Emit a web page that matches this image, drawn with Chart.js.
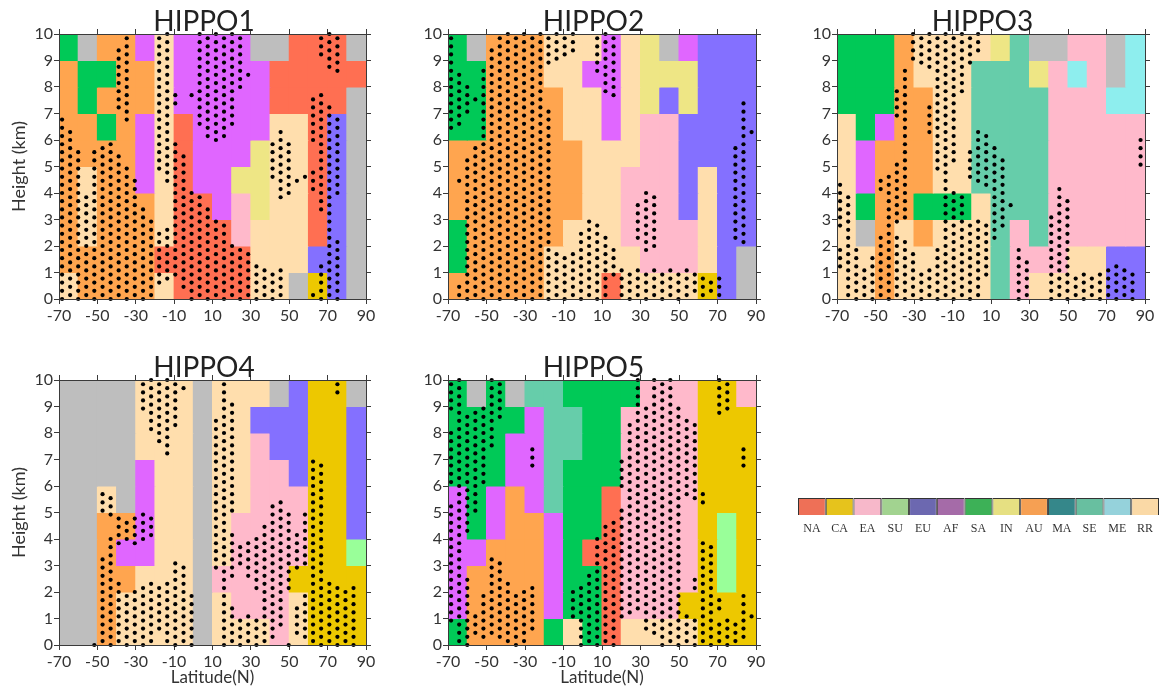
<!DOCTYPE html>
<html>
<head>
<meta charset="utf-8">
<title>HIPPO source regions</title>
<script src="https://cdn.jsdelivr.net/npm/chart.js"></script>
<style>
  html, body { margin: 0; padding: 0; background: #fff; overflow: hidden; }
  #page { position: relative; width: 1163px; height: 692px; overflow: hidden; }
  canvas { position: absolute; }
</style>
</head>
<body>
<div id="page"></div>
<script>
// Latitude bins (left edge, 10 degrees wide) and height bins (bottom edge, 1 km)
const latBins = [-70, -60, -50, -40, -30, -20, -10, 0, 10, 20, 30, 40, 50, 60, 70, 80];
const heightBins = [9, 8, 7, 6, 5, 4, 3, 2, 1, 0];

// Source region codes used in the grids. G is the grey "no region" colour
const legendNames = ['NA', 'CA', 'EA', 'SU', 'EU', 'AF', 'SA', 'IN', 'AU', 'MA', 'SE', 'ME', 'RR'];
const legendColors = ['#EE7057', '#E6C31C', '#F7B8CA', '#A2D390', '#6C68B0', '#A56BA8', '#3DB157', '#E6E082', '#F6A053', '#35878A', '#68BFA0', '#95D2DB', '#FAD9A6'];
const cellColors = {
    N: '#FF6F52', C: '#EDC800', E: '#FFB9CB', U: '#99FF99', B: '#8470FF', F: '#E066FF', S: '#00C957',
    I: '#EEE685', A: '#FFA54F', T: '#66CDAA', H: '#8EEEEE', R: '#FFDEAD', G: '#BEBEBE'
};

// One string per height bin (top row first), one letter per latitude bin
const grid1 = [
    'SGAAFRFFFFGGNNNG',
    'ASSAARFFFFFNNNNN',
    'ASAAARFFFFFNNNNG',
    'AASAFRNFFFFRRNBG',
    'AAAAFRNFFFIRRNBG',
    'ARAAFRNFFIIRRNBG',
    'ARAAARNNFEIRRNBG',
    'ARAAARNNNERRRNBG',
    'AAAAANNNNNRRRBBG',
    'RAAAARNNNNRRGCBG'
];
const grid2 = [
    'SGAAARRRFRIGFBBB',
    'SSAAARRFFRIIIBBB',
    'SSAAAARRFRIBIBBB',
    'SSAAAARRFREEBBBB',
    'AAAAAAARRREEBBBB',
    'AAAAAAARREEEBRBB',
    'AAAAAAARREEEBRBB',
    'SAAAAARRREEEERBB',
    'SAAAARRRRREEERBG',
    'AAAAARRRNRRRRCBG'
];
const grid3 = [
    'SSSARRRRITGGEEGH',
    'SSSARRRTTTIEHEGH',
    'SSSAARRTTTTEEEHH',
    'RSFAARRTTTTEEEEE',
    'RFAAARRTTTTEEEEE',
    'RFAAARRTTTTEEEEE',
    'RSAASSSRTTTEEEEE',
    'RGARARRRTETEEEEE',
    'RRARRRRRTEEERRBB',
    'RRARRRRRTERRRRBB'
];
const grid4 = [
    'GGGGRRRGRRRGBCCG',
    'GGGGRRRGRRBBBCCB',
    'GGGGRRRGRREBBCCB',
    'GGGGFRRGRREEBCCB',
    'GGRGFRRGRREEECCB',
    'GGAAFRRGREEEECCB',
    'GGAFFRRGREEEECCU',
    'GGAARRRGEEEECCCC',
    'GGARRRRGREEERCCC',
    'GGARRRRGRRRERCCC'
];
const grid5 = [
    'SGSGTTSSSSEEECCE',
    'SSSSFTTSSEEEECCC',
    'SSSFFTTSSEEEECCC',
    'SSSFFTSSSEEEECCC',
    'FSFAFTSSNEEEECCC',
    'FSFAAFSSNEEEECUC',
    'FFAAAFSNNEEEECUC',
    'FAAAAFSSNEEEECUC',
    'FAAAAFSSNEEECCCC',
    'SAAAASRSNRRRRCCC'
];

// Stippling sits on a staggered grid: these are its columns and the two sets of row heights
const stippleLats = [-68.4, -64.2, -60, -55.8, -51.6, -47.3, -43.1, -38.9, -34.7, -30.5, -26.2, -22, -17.8, -13.6, -9.4, -5.1, -0.9, 3.3, 7.5, 11.8, 16, 20.2, 24.4, 28.6, 32.9, 37.1, 41.3, 45.5, 49.7, 54, 58.2, 62.4, 66.6, 70.9, 75.1, 79.3, 83.5, 87.7];
const stippleEven = [0, 0.31, 0.62, 0.92, 1.23, 1.54, 1.85, 2.15, 2.46, 2.77, 3.08, 3.38, 3.69, 4, 4.31, 4.61, 4.92, 5.23, 5.54, 5.84, 6.15, 6.46, 6.77, 7.07, 7.38, 7.69, 8, 8.3, 8.61, 8.92, 9.23, 9.53, 9.84];
const stippleOdd = [0.15, 0.46, 0.77, 1.08, 1.38, 1.69, 2, 2.31, 2.61, 2.92, 3.23, 3.54, 3.84, 4.15, 4.46, 4.77, 5.07, 5.38, 5.69, 6, 6.3, 6.61, 6.92, 7.23, 7.53, 7.84, 8.15, 8.46, 8.76, 9.07, 9.38, 9.69, 10];

// Stippled runs: [column index, lowest height, highest height]
const dots1 = [[0,0,6.77],[1,.15,6.3],[2,0,5.54],[3,.15,3.84],[4,0,5.54],[5,.15,5.69],[6,0,5.84],[7,.15,5.38],[7,7.23,9.38],[8,0,4.92],[8,6.77,9.84],[9,.15,4.46],[10,0,3.38],[11,.15,2.92],[12,.62,2.46],[12,4.92,9.84],[13,.77,2.61],[13,4.46,10],[14,.92,5.84],[14,7.38,7.69],[15,.46,5.38],[16,0,4],[16,7.69,7.69],[17,.15,3.84],[17,6.61,10],[18,0,3.38],[18,6.15,9.84],[19,.15,2.92],[19,6,10],[20,0,2.77],[20,6.15,9.84],[21,.15,2],[21,6.61,10],[22,0,1.85],[22,8,9.84],[23,.15,1.69],[23,8.46,8.46],[24,0,1.23],[25,.15,1.08],[26,0,.92],[26,4.61,5.84],[27,.15,1.08],[27,3.84,6.3],[28,4,5.84],[29,4.46,4.46],[30,4.61,4.61],[31,.15,.15],[31,4.15,4.77],[31,6,7.53],[32,0,1.23],[32,3.38,7.69],[32,9.23,9.84],[33,.15,7.23],[33,8.76,10],[34,0,2.15],[34,4,6.77],[34,8.61,9.84]];
const dots2 = [[0,6.46,9.84],[1,.15,.46],[1,4.46,4.46],[1,6.61,8.46],[2,0,5.23],[2,7.07,8],[3,.15,5.69],[3,7.53,7.53],[4,0,8.61],[5,.15,9.38],[6,0,9.84],[7,.15,10],[8,0,9.84],[9,.15,10],[10,0,9.84],[11,.15,10],[12,0,7.07],[12,8.92,9.84],[13,.15,1.69],[13,9.07,10],[14,0,1.54],[14,9.23,9.84],[15,.15,1.69],[15,9.38,10],[16,0,2.46],[17,.15,2.92],[18,0,2.77],[18,8.61,9.84],[19,.15,2.31],[19,7.84,10],[20,.92,1.85],[20,7.69,9.84],[21,.15,1.08],[22,0,.92],[23,.15,1.08],[23,2.31,3.54],[24,0,.92],[24,1.85,4],[25,.15,1.08],[25,2,3.84],[26,0,.92],[27,.15,1.08],[28,0,.92],[29,.15,1.08],[30,.31,.92],[31,.15,.77],[32,.31,.62],[33,.15,.77],[35,2.31,5.69],[36,2.15,7.38],[37,6.3,6.3]];
const dots3 = [[0,1.23,1.85],[0,2.77,4.31],[1,.15,3.84],[2,0,1.85],[3,.15,1.08],[4,0,1.54],[5,.15,2.31],[5,4.15,4.46],[6,0,4.61],[7,.15,2.31],[7,2.92,5.07],[7,6.92,7.84],[8,0,2.15],[8,3.08,8.61],[9,.15,1.69],[9,9.07,10],[10,0,.92],[10,8.92,9.84],[11,.15,1.08],[11,6.3,7.23],[11,8.76,10],[12,0,1.85],[12,4.92,9.84],[13,.15,10],[14,0,4],[14,5.23,9.84],[15,.15,3.84],[15,7.84,10],[16,0,2.77],[16,4.61,5.54],[16,8.92,9.84],[17,.15,2.92],[17,4.46,6.3],[17,9.38,10],[18,.92,2.77],[18,4.31,6.15],[19,2.31,5.69],[20,2.77,5.23],[21,3.54,3.54],[22,0,1.85],[23,.15,1.38],[26,0,3.08],[27,.15,4.15],[28,0,3.69],[29,.15,.77],[30,0,.92],[31,.15,.77],[32,0,.92],[33,.15,1.08],[34,0,1.23],[35,.15,1.08],[36,0,.92],[37,5.07,6]];
const dots4 = [[4,0,0],[5,.15,3.23],[5,5.07,5.69],[6,0,4],[6,4.92,5.54],[7,.15,2.31],[7,3.84,4.77],[8,0,1.85],[8,4,4.61],[9,.15,2],[9,3.84,4.77],[10,0,2.15],[10,4,4.92],[10,8.92,9.84],[11,.15,2.31],[11,4.15,4.77],[11,8.15,10],[12,.46,2.15],[12,7.69,9.84],[13,.15,2.31],[13,7.23,10],[14,0,3.08],[14,8.3,9.84],[15,.15,2.92],[15,9.69,9.69],[16,0,1.85],[19,2.92,8.46],[20,0,9.84],[21,.15,1.38],[21,2.61,4.15],[21,5.07,9.07],[22,0,.92],[22,3.08,3.69],[23,.15,1.08],[23,2.61,3.84],[24,0,.92],[24,2.15,4],[25,.15,4.46],[26,.31,5.23],[27,.77,5.38],[28,0,0],[28,2.15,4.92],[29,.46,1.38],[29,2.92,4.15],[30,.31,1.85],[30,3.08,4.92],[31,.15,6.92],[32,0,6.77],[33,.15,2.31],[34,0,2.15],[34,9.53,9.84],[35,.15,2],[36,0,2.15]];
const dots5 = [[0,.92,5.23],[0,6.15,8],[0,8.92,9.84],[1,.15,10],[2,0,2.46],[2,4.31,8.61],[3,.46,1.08],[3,5.07,8.76],[4,.31,1.85],[4,6.15,8.92],[5,.46,3.23],[5,7.53,10],[6,.31,3.08],[6,8.61,9.84],[7,.15,2.31],[8,0,1.85],[9,.15,2],[10,.62,2.15],[10,6.77,7.38],[15,1.08,2],[16,0,2.15],[17,.15,2.61],[18,0,4],[19,.15,4.46],[20,0,4.61],[21,1.08,5.07],[21,6,6.92],[22,1.23,8.3],[23,1.38,10],[24,.62,8.92],[25,.46,10],[26,0,9.84],[27,.15,10],[28,0,8.92],[29,.15,1.08],[29,5.69,8.46],[30,0,.92],[30,2.15,2.46],[30,5.54,8.3],[31,.15,3.84],[31,5.38,5.69],[32,0,3.69],[33,.15,.77],[33,1.38,1.69],[33,8.76,10],[34,0,.92],[34,8.92,9.84],[35,.15,.77],[36,.31,1.85],[36,6.77,7.38],[37,1.08,1.08]];

const latTicks = [-70, -50, -30, -10, 10, 30, 50, 70, 90];

const fontFamily = 'Lato, "Open Sans", sans-serif';
const axisColor = '#3a3a3a';
const textColor = '#333';

// Expand the runs into points for the scatter dataset
function stipplePoints(runs) {
    const pts = [];
    runs.forEach(([k, lo, hi]) => {
        const rows = k % 2 === 0 ? stippleEven : stippleOdd;
        rows.forEach(h => {
            if (h >= lo - 0.08 && h <= hi + 0.08) pts.push({ x: stippleLats[k], y: h });
        });
    });
    return pts;
}

function addCanvas(left, top, width, height) {
    const canvas = document.createElement('canvas');
    canvas.width = width;
    canvas.height = height;
    canvas.style.left = left + 'px';
    canvas.style.top = top + 'px';
    canvas.style.width = width + 'px';
    canvas.style.height = height + 'px';
    document.getElementById('page').appendChild(canvas);
    return canvas;
}

function drawPanel(name, grid, dots, plotLeft, plotTop, plotWidth, marginLeft, showHeight, showLat) {
    const marginRight = marginLeft - 17;
    const plotHeight = 265;
    const bottomSpace = showLat ? 46 : 30;
    const canvas = addCanvas(plotLeft - marginLeft, plotTop - 34, marginLeft + plotWidth + marginRight, 34 + plotHeight + bottomSpace);

    // One floating-bar dataset per height bin
    const cellSets = heightBins.map((h, row) => ({
        type: 'bar',
        xAxisID: 'xBins',
        yAxisID: 'y',
        order: 2,
        data: latBins.map(() => [h, h + 1]),
        backgroundColor: latBins.map((lat, col) => cellColors[grid[row][col]]),
        borderWidth: 0,
        inflateAmount: 0.5,
        barPercentage: 1,
        categoryPercentage: 1,
        grouped: false
    }));

    const tickGrid = { drawOnChartArea: false, drawTicks: true, tickLength: 5, color: axisColor };
    const border = { display: true, color: axisColor, width: 1, z: 2 };

    new Chart(canvas, {
        data: {
            labels: latBins,
            datasets: [{
                type: 'scatter',
                xAxisID: 'x',
                yAxisID: 'y',
                order: 1,
                clip: false,
                data: stipplePoints(dots),
                pointRadius: 2.1,
                pointBorderWidth: 0,
                pointBackgroundColor: '#000'
            }].concat(cellSets)
        },
        options: {
            responsive: false,
            animation: false,
            layout: { padding: 0 },
            plugins: {
                legend: { display: false },
                tooltip: { enabled: false },
                title: {
                    display: true,
                    text: name,
                    color: '#222',
                    font: { family: fontFamily, size: 28, weight: 'normal', lineHeight: 1 },
                    padding: { top: 8, bottom: -7 }
                }
            },
            scales: {
                xBins: { type: 'category', display: false, offset: true },
                x: {
                    type: 'linear',
                    position: 'bottom',
                    min: -70,
                    max: 90,
                    grid: tickGrid,
                    border: border,
                    afterBuildTicks: s => { s.ticks = latTicks.map(v => ({ value: v })); },
                    afterFit: s => { s.height = bottomSpace; },
                    ticks: { color: textColor, font: { family: fontFamily, size: 16 }, padding: 2, maxRotation: 0, autoSkip: false },
                    title: {
                        display: showLat,
                        text: 'Latitude(N)',
                        color: textColor,
                        font: { family: fontFamily, size: 17, lineHeight: 1 },
                        padding: { top: 0, bottom: 5 }
                    }
                },
                xTop: {
                    type: 'linear',
                    position: 'top',
                    min: -70,
                    max: 90,
                    grid: tickGrid,
                    border: border,
                    afterBuildTicks: s => { s.ticks = latTicks.map(v => ({ value: v })); },
                    afterFit: s => { s.height = 5; },
                    ticks: { display: false }
                },
                y: {
                    type: 'linear',
                    position: 'left',
                    min: 0,
                    max: 10,
                    grid: tickGrid,
                    border: border,
                    afterFit: s => { s.width = marginLeft; },
                    ticks: { stepSize: 1, color: textColor, font: { family: fontFamily, size: 16 }, padding: 1 },
                    title: {
                        display: showHeight,
                        text: 'Height (km)',
                        color: textColor,
                        font: { family: fontFamily, size: 18, lineHeight: 1 },
                        padding: { top: 3, bottom: 0 }
                    }
                },
                yRight: {
                    type: 'linear',
                    position: 'right',
                    min: 0,
                    max: 10,
                    grid: tickGrid,
                    border: border,
                    afterFit: s => { s.width = marginRight; },
                    ticks: { stepSize: 1, display: false }
                }
            }
        }
    });
}

function drawLegend() {
    const canvas = addCanvas(797, 497, 364, 44);
    new Chart(canvas, {
        type: 'bar',
        data: {
            labels: legendNames,
            datasets: [{
                data: legendNames.map(() => [0, 1]),
                backgroundColor: legendColors,
                borderColor: '#333',
                borderWidth: 1,
                inflateAmount: 0,
                barPercentage: 1,
                categoryPercentage: 1
            }]
        },
        options: {
            responsive: false,
            animation: false,
            layout: { padding: { left: 1, right: 2, top: 1 } },
            plugins: { legend: { display: false }, tooltip: { enabled: false } },
            scales: {
                x: {
                    grid: { display: false },
                    border: { display: false },
                    afterFit: s => { s.height = 26; },
                    ticks: { color: '#333', font: { family: '"Liberation Serif", serif', size: 12 }, padding: -1, maxRotation: 0, autoSkip: false }
                },
                y: { display: false, min: 0, max: 1 }
            }
        }
    });
}

drawPanel('HIPPO1', grid1, dots1, 59, 34, 307, 52, true, false);
drawPanel('HIPPO2', grid2, dots2, 448, 34, 308, 52, false, false);
drawPanel('HIPPO3', grid3, dots3, 837, 34, 308, 35, false, false);
drawPanel('HIPPO4', grid4, dots4, 59, 380, 307, 52, true, true);
drawPanel('HIPPO5', grid5, dots5, 448, 380, 308, 52, false, true);
drawLegend();
</script>
</body>
</html>
